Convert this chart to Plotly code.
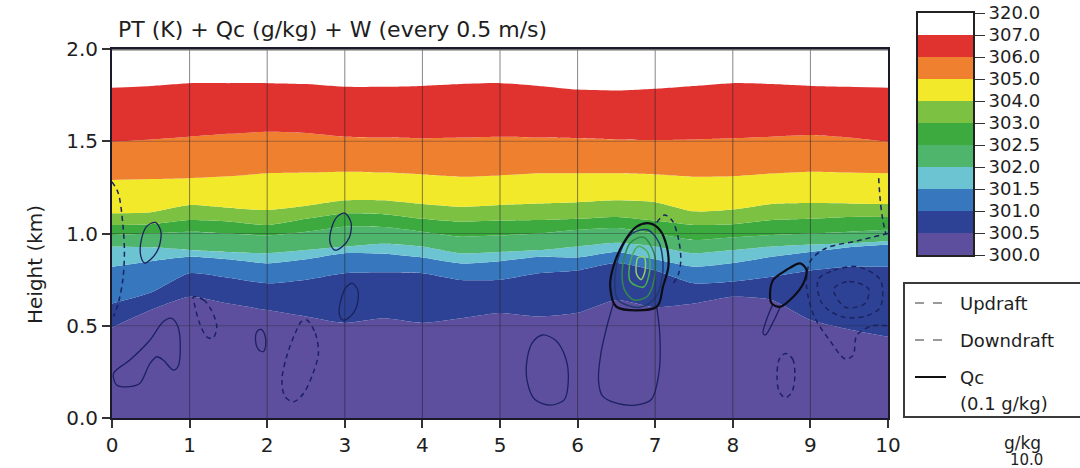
import plotly.graph_objects as go

# ---------------- data ----------------
# horizontal sample positions (km) for the potential-temperature isentropes
dist_km = [0, 0.5, 1, 1.5, 2, 2.5, 3, 3.5, 4, 4.5, 5, 5.5, 6, 6.5, 7, 7.5, 8, 8.5, 9, 9.5, 10]

# height (km) of each PT isentrope along the section
pt_300_5 = [0.49, 0.585, 0.657, 0.62, 0.585, 0.55, 0.515, 0.54, 0.515, 0.54, 0.569, 0.55, 0.57, 0.64, 0.60, 0.62, 0.657, 0.64, 0.531, 0.48, 0.44]
pt_301_0 = [0.62, 0.68, 0.785, 0.76, 0.73, 0.75, 0.785, 0.79, 0.785, 0.748, 0.75, 0.785, 0.80, 0.84, 0.80, 0.73, 0.74, 0.766, 0.80, 0.82, 0.82]
pt_301_5 = [0.82, 0.85, 0.874, 0.86, 0.838, 0.86, 0.893, 0.89, 0.87, 0.838, 0.85, 0.874, 0.87, 0.90, 0.86, 0.82, 0.84, 0.874, 0.90, 0.925, 0.94]
pt_302_0 = [0.929, 0.925, 0.911, 0.90, 0.893, 0.91, 0.929, 0.945, 0.93, 0.893, 0.90, 0.91, 0.93, 0.95, 0.93, 0.893, 0.91, 0.929, 0.94, 0.947, 0.96]
pt_302_5 = [0.992, 1.0, 1.01, 1.0, 0.99, 1.01, 1.037, 1.035, 1.01, 0.983, 0.99, 1.0, 1.02, 1.03, 1.0, 0.965, 0.98, 0.992, 1.0, 1.01, 1.02]
pt_303_0 = [1.046, 1.05, 1.073, 1.065, 1.046, 1.08, 1.109, 1.105, 1.08, 1.064, 1.07, 1.073, 1.08, 1.09, 1.07, 1.046, 1.05, 1.073, 1.08, 1.09, 1.09]
pt_304_0 = [1.11, 1.115, 1.154, 1.14, 1.127, 1.15, 1.18, 1.18, 1.16, 1.145, 1.155, 1.163, 1.17, 1.18, 1.17, 1.12, 1.13, 1.16, 1.165, 1.163, 1.16]
pt_305_0 = [1.29, 1.295, 1.30, 1.31, 1.326, 1.33, 1.335, 1.33, 1.32, 1.308, 1.315, 1.326, 1.326, 1.326, 1.32, 1.308, 1.31, 1.325, 1.335, 1.33, 1.326]
pt_306_0 = [1.497, 1.51, 1.525, 1.54, 1.552, 1.545, 1.525, 1.52, 1.516, 1.52, 1.525, 1.52, 1.516, 1.51, 1.507, 1.51, 1.516, 1.525, 1.534, 1.52, 1.497]
pt_307_0 = [1.79, 1.80, 1.815, 1.815, 1.815, 1.81, 1.795, 1.795, 1.80, 1.81, 1.815, 1.80, 1.78, 1.775, 1.785, 1.80, 1.815, 1.81, 1.80, 1.795, 1.79]

pt_levels = ["300.0", "300.5", "301.0", "301.5", "302.0", "302.5", "303.0", "304.0", "305.0", "306.0", "307.0", "320.0"]
pt_colors = ["#5d4f9e", "#2e4295", "#3677bd", "#6cc4d2", "#4fb46c", "#3daa3f", "#7dc143",
             "#f2e92a", "#ee8030", "#e0322e", "#ffffff"]

# cloud water (Qc = 0.1 g/kg) outlines
qc_a_x = [0.02, 0.23, 0.49, 0.66, 0.77, 0.85, 0.88, 0.85, 0.79, 0.66, 0.58, 0.49, 0.36, 0.23, 0.06, 0.02]
qc_a_y = [0.242, 0.314, 0.423, 0.522, 0.54, 0.495, 0.386, 0.278, 0.26, 0.314, 0.332, 0.296, 0.188, 0.17, 0.179, 0.242]
qc_b_x = [1.85, 1.87, 1.92, 1.97, 1.98, 1.95, 1.89, 1.85]
qc_b_y = [0.42, 0.47, 0.48, 0.45, 0.39, 0.36, 0.37, 0.42]
qc_c_x = [0.56, 0.63, 0.60, 0.50, 0.42, 0.37, 0.38, 0.45, 0.56]
qc_c_y = [1.06, 1.01, 0.92, 0.86, 0.84, 0.88, 0.97, 1.04, 1.06]
qc_d_x = [3.00, 3.08, 3.06, 2.97, 2.87, 2.81, 2.83, 2.90, 3.00]
qc_d_y = [1.11, 1.06, 0.98, 0.93, 0.91, 0.95, 1.03, 1.09, 1.11]
qc_e_x = [3.10, 3.17, 3.15, 3.07, 2.98, 2.93, 2.95, 3.02, 3.10]
qc_e_y = [0.73, 0.69, 0.60, 0.55, 0.53, 0.56, 0.64, 0.71, 0.73]
qc_f_x = [5.55, 5.72, 5.85, 5.88, 5.83, 5.65, 5.45, 5.35, 5.35, 5.42, 5.55]
qc_f_y = [0.45, 0.42, 0.32, 0.20, 0.10, 0.07, 0.10, 0.20, 0.32, 0.41, 0.45]
qc_g_x = [8.48, 8.52, 8.69, 8.87, 8.95, 8.91, 8.78, 8.61, 8.50, 8.48]
qc_g_y = [0.676, 0.748, 0.802, 0.838, 0.802, 0.73, 0.657, 0.603, 0.621, 0.676]
qc_h_x = [8.52, 8.45, 8.39, 8.42, 8.52, 8.61]
qc_h_y = [0.62, 0.55, 0.46, 0.45, 0.52, 0.60]
qc_cloud_x = [6.50, 6.42, 6.46, 6.59, 6.76, 6.93, 7.06, 7.15, 7.17, 7.10, 7.02, 6.50]
qc_cloud_y = [0.603, 0.712, 0.82, 0.947, 1.037, 1.055, 1.019, 0.928, 0.82, 0.712, 0.603, 0.603]
qc_tail_x = [6.46, 6.38, 6.30, 6.27, 6.32, 6.50, 6.75, 6.95, 7.05, 7.06, 7.02]
qc_tail_y = [0.62, 0.50, 0.35, 0.20, 0.12, 0.08, 0.07, 0.10, 0.25, 0.45, 0.60]

# higher Qc values inside the cloud (outer to inner)
qc_in1_x = [6.52, 6.48, 6.55, 6.70, 6.90, 7.05, 7.10, 7.00, 6.80, 6.52]
qc_in1_y = [0.64, 0.75, 0.90, 1.00, 1.02, 0.95, 0.80, 0.65, 0.60, 0.64]
qc_in2_x = [6.60, 6.58, 6.68, 6.85, 6.98, 7.00, 6.90, 6.72, 6.60]
qc_in2_y = [0.70, 0.82, 0.95, 0.98, 0.90, 0.78, 0.66, 0.64, 0.70]
qc_in3_x = [6.68, 6.68, 6.78, 6.90, 6.93, 6.85, 6.68]
qc_in3_y = [0.74, 0.85, 0.93, 0.90, 0.80, 0.71, 0.74]
qc_in4_x = [6.76, 6.78, 6.86, 6.87, 6.82, 6.76]
qc_in4_y = [0.78, 0.87, 0.87, 0.80, 0.75, 0.78]
qc_inner_colors = ["#1d3b6e", "#2f8a4a", "#47b04b", "#8fd06a"]

# vertical velocity contours (every 0.5 m/s)
w_a_x = [0.00, 0.08, 0.14, 0.16, 0.14, 0.08, 0.02]
w_a_y = [1.28, 1.22, 1.05, 0.90, 0.75, 0.62, 0.55]
w_b_x = [1.05, 1.18, 1.28, 1.35, 1.30, 1.22, 1.13, 1.07, 1.05]
w_b_y = [0.657, 0.64, 0.585, 0.495, 0.432, 0.44, 0.513, 0.603, 0.657]
w_c_x = [2.51, 2.62, 2.66, 2.59, 2.47, 2.34, 2.23, 2.19, 2.25, 2.36, 2.44, 2.51]
w_c_y = [0.531, 0.459, 0.351, 0.242, 0.134, 0.088, 0.115, 0.206, 0.332, 0.459, 0.522, 0.531]
w_d_x = [7.02, 7.12, 7.22, 7.30, 7.33, 7.30, 7.22]
w_d_y = [1.06, 1.10, 1.07, 0.97, 0.86, 0.78, 0.72]
w_e1_x = [10.0, 9.6, 9.2, 9.0, 8.95, 9.05, 9.25, 9.45, 9.55, 9.6, 9.8, 10.0]
w_e1_y = [1.00, 0.96, 0.92, 0.85, 0.72, 0.55, 0.42, 0.32, 0.34, 0.45, 0.50, 0.50]
w_e2_x = [9.10, 9.30, 9.60, 9.90, 9.90, 9.70, 9.40, 9.15, 9.10]
w_e2_y = [0.75, 0.80, 0.82, 0.75, 0.60, 0.55, 0.55, 0.62, 0.75]
w_e3_x = [9.30, 9.50, 9.75, 9.70, 9.45, 9.30]
w_e3_y = [0.70, 0.74, 0.70, 0.62, 0.60, 0.70]
w_f_x = [8.68, 8.77, 8.80, 8.76, 8.68, 8.60, 8.57, 8.60, 8.68]
w_f_y = [0.35, 0.32, 0.23, 0.14, 0.11, 0.14, 0.23, 0.32, 0.35]
w_g_x = [9.88, 9.90, 9.93, 9.97]
w_g_y = [1.30, 1.18, 1.08, 1.00]

x_ticks = [0, 1, 2, 3, 4, 5, 6, 7, 8, 9, 10]
y_ticks = [0.0, 0.5, 1.0, 1.5, 2.0]

# ---------------- figure ----------------
W, H = 1080, 468
FONT = "DejaVu Sans"
INK = "#1e1e1e"
CONTOUR = "#1b2260"


def px(x):
    return x / W


def py(y):
    return 1 - y / H


fig = go.Figure()

# filled PT bands (lowest band fills to the ground)
bounds = [pt_300_5, pt_301_0, pt_301_5, pt_302_0, pt_302_5, pt_303_0, pt_304_0, pt_305_0, pt_306_0, pt_307_0]
for i, b in enumerate(bounds):
    fig.add_trace(go.Scatter(
        x=dist_km, y=b, mode="lines", line=dict(width=0, shape="spline", smoothing=0.6),
        fill="tozeroy" if i == 0 else "tonexty", fillcolor=pt_colors[i],
        hoverinfo="skip", showlegend=False))


def outline(xs, ys, color=CONTOUR, width=1.6, dash=None):
    fig.add_trace(go.Scatter(
        x=xs, y=ys, mode="lines",
        line=dict(color=color, width=width, dash=dash, shape="spline", smoothing=0.9),
        hoverinfo="skip", showlegend=False))


# vertical velocity (dashed)
for xs, ys in [(w_a_x, w_a_y), (w_b_x, w_b_y), (w_c_x, w_c_y), (w_d_x, w_d_y),
               (w_e1_x, w_e1_y), (w_e2_x, w_e2_y), (w_e3_x, w_e3_y), (w_f_x, w_f_y), (w_g_x, w_g_y)]:
    outline(xs, ys, dash="5px,4px", width=1.5)

# cloud water outlines (solid)
for xs, ys in [(qc_a_x, qc_a_y), (qc_b_x, qc_b_y), (qc_c_x, qc_c_y), (qc_d_x, qc_d_y),
               (qc_e_x, qc_e_y), (qc_f_x, qc_f_y), (qc_h_x, qc_h_y), (qc_tail_x, qc_tail_y)]:
    outline(xs, ys, width=1.3)
for (xs, ys), c in zip([(qc_in1_x, qc_in1_y), (qc_in2_x, qc_in2_y), (qc_in3_x, qc_in3_y), (qc_in4_x, qc_in4_y)],
                       qc_inner_colors):
    outline(xs, ys, color=c, width=1.5)
outline(qc_cloud_x, qc_cloud_y, color="#0d0d1a", width=2.2)
outline(qc_g_x, qc_g_y, color="#0d0d1a", width=2.2)

# colour key for the PT bands
n_band = len(pt_colors)
fig.add_trace(go.Bar(
    x=[0] * n_band, y=[1] * n_band, base=list(range(n_band)), width=1,
    marker=dict(color=pt_colors, line=dict(width=0)),
    xaxis="x2", yaxis="y2", hoverinfo="skip", showlegend=False))

shapes = []
# grid lines drawn over the colour fills
for xv in x_ticks[1:-1]:
    shapes.append(dict(type="line", xref="x", yref="y", x0=xv, x1=xv, y0=0, y1=2,
                       line=dict(color="rgba(35,35,45,0.55)", width=1), layer="above"))
for yv in y_ticks[1:-1]:
    shapes.append(dict(type="line", xref="x", yref="y", x0=0, x1=10, y0=yv, y1=yv,
                       line=dict(color="rgba(35,35,45,0.35)", width=1), layer="above"))
# heavier grey top border
shapes.append(dict(type="line", xref="x", yref="y", x0=0, x1=10, y0=2, y1=2,
                   line=dict(color="#6e6e6e", width=3), layer="above"))

# legend box
shapes.append(dict(type="rect", xref="paper", yref="paper", x0=px(904), x1=px(1095),
                   y0=py(417), y1=py(283), line=dict(color="#3a3a3a", width=2), fillcolor="white"))
for yy, col, dash in [(303, "#9a9a9a", "dash"), (340, "#9a9a9a", "dash"), (377, "#111111", "solid")]:
    shapes.append(dict(type="line", xref="paper", yref="paper", x0=px(915), x1=px(946),
                       y0=py(yy), y1=py(yy), line=dict(color=col, width=2, dash=dash)))


def label(text, x, y, size, anchor="left", angle=0):
    return dict(text=text, x=px(x), y=py(y), xref="paper", yref="paper", xanchor=anchor,
                yanchor="middle", textangle=angle, showarrow=False,
                font=dict(family=FONT, size=size, color=INK))


annotations = [
    label("PT (K) + Qc (g/kg) + W (every 0.5 m/s)", 116, 29, 22),
    label("Height (km)", 35, 265, 20, anchor="center", angle=-90),
    label("Updraft", 958, 303, 18),
    label("Downdraft", 958, 340, 18),
    label("Qc", 958, 377, 18),
    label("(0.1 g/kg)", 958, 403, 18),
    label("g/kg", 1022, 443, 17, anchor="center"),
    label("10.0", 1026, 460, 15, anchor="center"),
]

fig.update_layout(
    width=W, height=H, margin=dict(l=0, r=0, t=0, b=0, autoexpand=False),
    paper_bgcolor="white", plot_bgcolor="white", showlegend=False,
    font=dict(family=FONT, color=INK),
    xaxis=dict(domain=[px(112), px(888)], range=[0, 10], tickvals=x_ticks,
               ticktext=[str(v) for v in x_ticks], ticks="outside", ticklen=8, tickwidth=1.5,
               tickcolor="#333", showgrid=False, zeroline=False, showline=True, linecolor="#1a1a2a",
               linewidth=2, mirror=True, automargin=False, tickfont=dict(size=20, family=FONT, color=INK)),
    yaxis=dict(domain=[py(418), py(49)], range=[0, 2], tickvals=y_ticks,
               ticktext=["%.1f" % v for v in y_ticks], ticks="outside", ticklen=8, tickwidth=1.5,
               tickcolor="#333", showgrid=False, zeroline=False, showline=True, linecolor="#1a1a2a",
               linewidth=2, mirror=True, automargin=False, tickfont=dict(size=20, family=FONT, color=INK)),
    xaxis2=dict(domain=[px(918), px(973)], range=[-0.5, 0.5], showticklabels=False, ticks="",
                showgrid=False, zeroline=False, showline=True, linecolor="#222", linewidth=2,
                mirror=True, anchor="y2", automargin=False),
    yaxis2=dict(domain=[py(255), py(13)], range=[0, n_band], tickvals=list(range(n_band + 1)),
                ticktext=pt_levels, side="right", ticks="outside", ticklen=10, tickcolor="#333",
                showgrid=False, zeroline=False, showline=True, linecolor="#222", linewidth=2,
                mirror=True, anchor="x2", automargin=False, tickfont=dict(size=18, family=FONT, color=INK)),
    shapes=shapes, annotations=annotations,
)

fig.write_html("out.html")
